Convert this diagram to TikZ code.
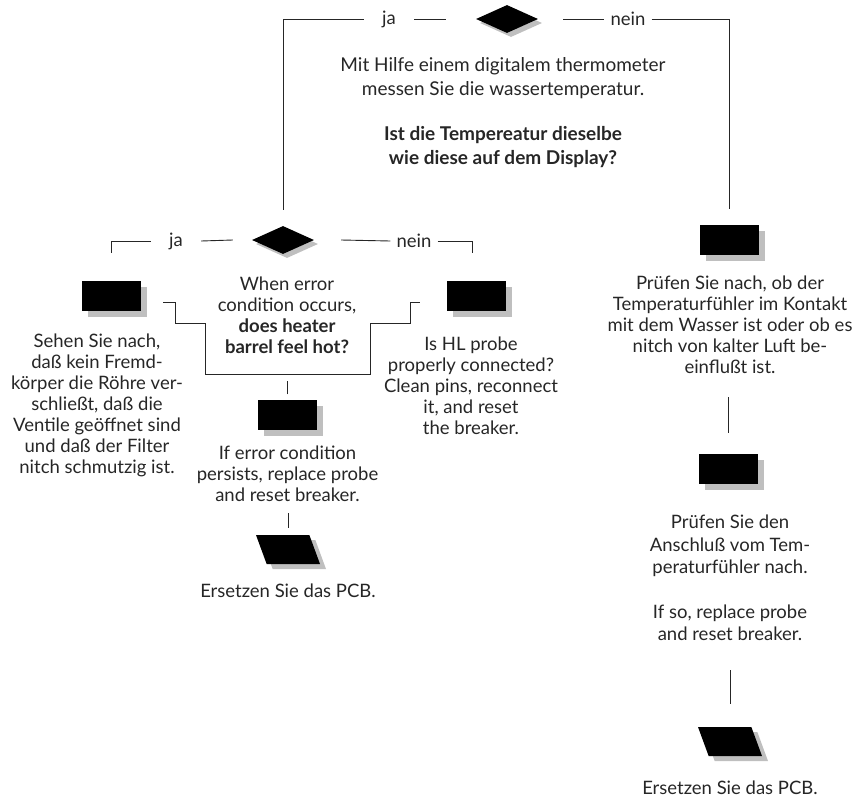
\documentclass[tikz,border=0pt]{standalone}
\usepackage{fontspec}
\setmainfont{Lato}
\usepackage{tikz}
\usetikzlibrary{shapes,positioning,calc}
\usetikzlibrary{shadows}

\begin{document}
\begin{tikzpicture}[x=1pt, y=-1pt,
	every node/.style={font=\fontsize{18.5}{21}\selectfont, text=black!85, inner sep=0pt},
	bar/.style={draw=black!85, line width=0.9pt},
	note/.style={align=center, anchor=north},
	yeslbl/.style={inner xsep=18pt},
	nolbl/.style={inner xsep=6pt},
	blockbox/.style={rectangle, fill=black, minimum width=59pt, minimum height=30pt,
		drop shadow={shadow xshift=6pt, shadow yshift=-6pt, fill=black!25, opacity=1}},
	decision/.style={diamond, fill=black, minimum width=62pt, minimum height=28pt,
		drop shadow={shadow xshift=4pt, shadow yshift=-4pt, fill=black!25, opacity=1}},
	pcbshape/.style={trapezium, trapezium left angle=104, trapezium right angle=76,
		trapezium stretches=true, minimum width=64pt, minimum height=29pt, fill=black,
		inner sep=2pt,
		drop shadow={shadow xshift=6pt, shadow yshift=-5pt, fill=black!25, opacity=1}}]
\useasboundingbox (0,0) rectangle (866,798);

% First question: is the water temperature the same as on the display
\node[decision] (dispq) at (507,19) {};
\node[yeslbl] (dispja) at (389,19) {ja};
\node[nolbl] (dispnein) at (628,19) {nein};
\node[note, font=\fontsize{19}{24}\selectfont] (disptext) at (503,57)
	{Mit Hilfe einem digitalem thermometer\\ messen Sie die wassertemperatur.\\[21pt]
	\textbf{Ist die Tempereatur dieselbe}\\ \textbf{wie diese auf dem Display?}};

% Second question: heater barrel hot or not
\node[decision] (heatq) at (283,240) {};
\node[yeslbl] (heatja) at (176,241) {ja};
\node[nolbl] (heatnein) at (414,241) {nein};
\node[note] (heattext) at (287,277)
	{When error\\ condition occurs,\\ \textbf{does heater}\\ \textbf{barrel feel hot?}};

% Steps under the second question
\node[blockbox] (blockbox) at (111.5,296) {};
\node[note] (blocktext) at (97,334)
	{Sehen Sie nach,\\ daß kein Fremd-\\ körper die Röhre ver-\\ schließt, daß die\\
	Ventile geöffnet sind\\ und daß der Filter\\ nitch schmutzig ist.};
\node[blockbox] (probebox) at (476.5,296) {};
\node[note] (probetext) at (471,337)
	{Is HL probe\\ properly connected?\\ Clean pins, reconnect\\ it, and reset\\ the breaker.};
\node[blockbox] (persistbox) at (287.5,414.5) {};
\node[note, below=16pt of persistbox] (persisttext)
	{If error condition\\ persists, replace probe\\ and reset breaker.};
\node[pcbshape] (leftpcb) at (288,549.5) {};
\node[note, below=19pt of leftpcb] (leftpcbtext) {Ersetzen Sie das PCB.};

% Right column, answer nein on the first question
\node[blockbox] (tempbox) at (729,240) {};
\node[note] (temptext) at (730,276)
	{Prüfen Sie nach, ob der\\ Temperaturfühler im Kontakt\\ mit dem Wasser ist oder ob es\\
	nitch von kalter Luft be-\\ einflußt ist.};
\node[blockbox] (checkbox) at (728,469) {};
\node[note, font=\fontsize{18.5}{22.5}\selectfont] (conntext) at (730,515)
	{Prüfen Sie den\\ Anschluß vom Tem-\\ peraturfühler nach.\\[22pt]
	If so, replace probe\\ and reset breaker.};
\node[pcbshape] (rightpcb) at (730,741.5) {};
\node[note, below=24pt of rightpcb] (rightpcbtext) {Ersetzen Sie das PCB.};

% Connectors
\draw[bar] ([xshift=-30pt]dispq.west) -- (dispja.east);
\draw[bar] ([xshift=25pt]dispq.east) -- (dispnein.west);
\draw[bar] (dispja.west) -| ([yshift=16pt]heatq.north);
\draw[bar] (dispnein.east) -| ([yshift=16pt]tempbox.north);

\draw[bar] ([xshift=-19pt]heatq.west) -- (heatja.east);
\draw[bar] ([xshift=27pt]heatq.east) -- (heatnein.west);
\draw[bar] (heatja.west) -| ([yshift=28pt]blockbox.north);
\draw[bar] (heatnein.east) -| ([xshift=-4pt, yshift=28pt]probebox.north);

% bracket round the second question
\draw[bar] ([xshift=22pt, yshift=-6pt]blockbox.east) -- ++(12,0) -- ++(0,21) -- ++(30,0)
	-- ++(0,51) -- ++(165,0) -- ++(0,-51) -- ++(40,0) -- ++(0,-21) -- ++(10,0);
\draw[bar] ([yshift=5pt]persistbox.north) -- ++(0,-13);
\draw[bar] ([yshift=7pt]leftpcb.north) -- ++(0,-15);

\draw[bar] ([yshift=21pt]checkbox.north) -- ++(0,-36);
\draw[bar] ([yshift=23pt]rightpcb.north) -- ++(0,-34);
\end{tikzpicture}
\end{document}
